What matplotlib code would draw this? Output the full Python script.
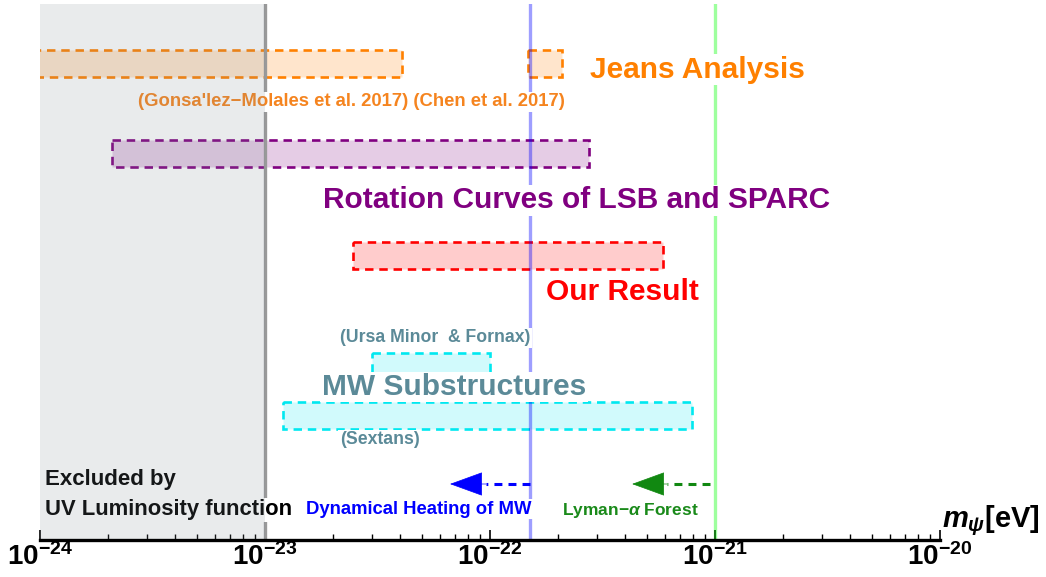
import numpy as np
import matplotlib
matplotlib.use("Agg")
import matplotlib.pyplot as plt
from matplotlib.patches import Rectangle

plt.rcParams["font.family"] = ["Liberation Sans", "DejaVu Sans"]
plt.rcParams["font.weight"] = "bold"
plt.rcParams["mathtext.fontset"] = "custom"
plt.rcParams["mathtext.rm"] = "Liberation Sans:bold"
plt.rcParams["mathtext.it"] = "Liberation Sans:italic:bold"
plt.rcParams["mathtext.bf"] = "Liberation Sans:bold"

# =============================
# DATA
# =============================

# mass ranges in eV (low, high) for each constraint band
band_names = ["Jeans (Gonzalez-Morales)", "Jeans (Chen)", "Rotation curves",
              "Our result", "Ursa Minor & Fornax", "Sextans"]
band_low = [8.0e-25, 1.47e-22, 2.1e-24, 2.45e-23, 3.0e-23, 1.2e-23]
band_high = [4.06e-23, 2.09e-22, 2.75e-22, 5.87e-22, 1.0e-22, 7.9e-22]

# vertical bound lines
uv_bound = 1.0e-23
heating_bound = 1.5e-22
lyman_bound = 1.0e-21

# arrows: (tail, head base, tip)
heating_arrow = [1.5e-22, 9.6e-23, 6.64e-23]
lyman_arrow = [9.5e-22, 6.12e-22, 4.28e-22]

tick_values = [1e-24, 1e-23, 1e-22, 1e-21, 1e-20]
tick_labels = [r"$10^{-24}$", r"$10^{-23}$", r"$10^{-22}$", r"$10^{-21}$", r"$10^{-20}$"]

# =============================
# LAYOUT / STYLE
# =============================

band_rows = [59.5, 59.5, 149.5, 251.5, 362.5, 411.5]   # row centres (px from axes top)
band_h = 27
band_colors = ["#ff8000", "#ff8000", "#800080", "#ff0000", "#00e8f0", "#00e8f0"]
band_alpha = [0.2, 0.2, 0.2, 0.2, 0.18, 0.18]
arrow_row = 480

fig = plt.figure(figsize=(10.46, 5.77), dpi=100)
ax = fig.add_axes([40 / 1046, 37 / 577, 900 / 1046, 536 / 577])
ax.set_xscale("log")
ax.set_xlim(1e-24, 1e-20)
ax.set_ylim(536, 0)

for lo, hi, row, col, a in zip(band_low, band_high, band_rows, band_colors, band_alpha):
    rect = Rectangle((lo, row - band_h / 2), hi - lo, band_h,
                     facecolor=matplotlib.colors.to_rgba(col, a),
                     edgecolor=col, linewidth=1.9, linestyle=(0, (3.2, 2.2)),
                     zorder=2)
    ax.add_patch(rect)

ax.axvline(uv_bound, color="#999999", lw=2.4, zorder=3)
ax.axvline(heating_bound, color=(0, 0, 1, 0.38), lw=2.4, zorder=3)
ax.axvline(lyman_bound, color=(0, 1, 0, 0.38), lw=2.4, zorder=3)

white = dict(facecolor="white", edgecolor="none", pad=1)


def label(x, y, s, color, size, box=True):
    ax.text(x, y, s, color=color, fontsize=size, fontweight="bold",
            ha="left", va="center", zorder=4, bbox=white if box else None)


label(2.78e-22, 65.5, "Jeans Analysis", "#ff8000", 21.5)
label(2.73e-24, 98, "(Gonsa'lez\u2212Molales et al. 2017) (Chen et al. 2017)", "#f5841f", 13.3)
label(1.81e-23, 196.5, "Rotation Curves of LSB and SPARC", "#800080", 21.5)
label(1.77e-22, 288, "Our Result", "#ff0000", 21.5)
label(2.15e-23, 334, "(Ursa Minor  & Fornax)", "#5b8a98", 12.7)
label(1.79e-23, 383, "MW Substructures", "#5b8a98", 21.5)
label(2.15e-23, 436, "(Sextans)", "#5b8a98", 12.7)
label(1.05e-24, 476, "Excluded by", "black", 16, box=False)
label(1.05e-24, 506, "UV Luminosity function", "black", 15.8)
label(1.52e-23, 505, "Dynamical Heating of MW", "#0000ff", 13.3)
label(2.09e-22, 506, r"Lyman$-\alpha$ Forest", "#1a8a1a", 12.5)

for arr, col in [(heating_arrow, "#0000ff"), (lyman_arrow, "#118811")]:
    ax.plot([arr[0], arr[1]], [arrow_row, arrow_row], color=col, lw=2.2,
            linestyle=(0, (2.6, 2.0)), zorder=4)
    ax.annotate("", xy=(arr[2], arrow_row), xytext=(arr[1], arrow_row),
                arrowprops=dict(arrowstyle="-|>,head_length=2.2,head_width=0.8",
                                color=col, lw=0.5, shrinkA=0, shrinkB=0),
                zorder=4)

# shaded exclusion region drawn on top
ax.axvspan(1e-24, uv_bound, color=(0.5, 0.55, 0.58, 0.17), lw=0, zorder=5)

for sp in ["left", "top", "right"]:
    ax.spines[sp].set_visible(False)
ax.spines["bottom"].set_linewidth(2.4)
ax.spines["bottom"].set_zorder(6)
ax.set_yticks([])
ax.set_xticks(tick_values)
ax.set_xticklabels(tick_labels)
ax.tick_params(axis="x", which="major", direction="in", length=7, width=1.2,
               labelsize=20, pad=2)
ax.tick_params(axis="x", which="minor", direction="in", length=4, width=1.0)

fig.text(1040 / 1046, 1 - 521 / 577, r"$m_\psi$[eV]", fontsize=21, fontweight="bold",
         ha="right", va="center")

fig.savefig("out.png", dpi=100)
